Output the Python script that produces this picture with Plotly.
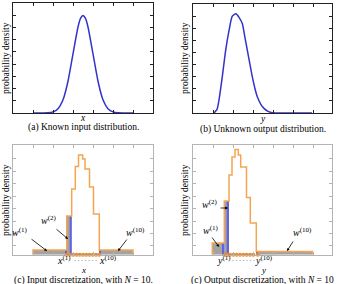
import plotly.graph_objects as go

W, H = 338, 284

# ---------------- data ----------------
# (a) known input distribution
a_x = [-5.0, -4.0, -3.5, -3.0, -2.5, -2.0, -1.5, -1.0, -0.5, -0.25, 0.0,
       0.25, 0.5, 1.0, 1.5, 2.0, 2.5, 3.0, 3.5, 4.0, 5.0]
a_y = [0.0, 0.0002, 0.001, 0.0045, 0.0175, 0.054, 0.13, 0.242, 0.352, 0.387, 0.399,
       0.387, 0.352, 0.242, 0.13, 0.054, 0.0175, 0.0045, 0.001, 0.0002, 0.0]

# (b) unknown output distribution
b_x = [2.1, 2.4, 2.6, 2.93, 3.27, 3.6, 3.93, 4.3, 4.6, 4.93, 5.2, 5.43, 5.7,
       5.93, 6.2, 6.43, 6.8, 7.1, 7.5, 7.93, 9.0, 11.9]
b_y = [0.0, 0.015, 0.054, 0.15, 0.26, 0.34, 0.40, 0.41, 0.395, 0.37, 0.31, 0.26, 0.2,
       0.15, 0.1, 0.067, 0.035, 0.019, 0.007, 0.001, 0.0, 0.0]

# (c) input discretization: bin edges and densities
c_edges = [-5.0, -1.63, -1.13, -0.77, -0.45, -0.03, 0.2, 0.65, 1.05, 1.63, 5.0]
c_heights = [0.019, 0.159, 0.270, 0.362, 0.409, 0.393, 0.352, 0.278, 0.167, 0.019]
c_gray_bins = [0, 1, 9]
c_blue_left = [-1.75, -1.33, 1.63]
c_blue_right = [-1.63, -1.13, 1.75]
c_blue_h = [0.019, 0.159, 0.019]
c_points = [-1.63, -1.30, -0.98, -0.65, -0.33, 0.0, 0.33, 0.65, 0.98, 1.30, 1.63]

# (d) output discretization
d_edges = [1.93, 3.13, 3.6, 3.9, 4.2, 4.53, 4.77, 5.35, 5.73, 6.33, 11.93]
d_heights = [0.048, 0.220, 0.327, 0.401, 0.432, 0.409, 0.360, 0.235, 0.130, 0.013]
d_gray_bins = [0, 1, 9]
d_blue_left = [2.98, 3.37, 6.33]
d_blue_right = [3.13, 3.6, 6.45]
d_blue_h = [0.048, 0.220, 0.013]
d_points = [3.2, 3.47, 3.7, 4.03, 4.37, 4.7, 5.03, 5.37, 5.7, 6.03, 6.47]

top_xticks_a = [-5, -3, -1, 1, 3, 5]
top_xticks_b = [2, 4, 6, 8, 10, 12]
top_yticks = [0.05, 0.10, 0.15, 0.20, 0.25, 0.30, 0.35, 0.40]
bot_yticks = [0.036, 0.087, 0.138, 0.189, 0.240, 0.291, 0.342, 0.393]

# ---------------- styles ----------------
BLUE = "#3333cc"
ORANGE = "#f5a552"
DOT = "#ef8a28"
GRAY = "#a3a3a3"
STRIP = "#6464e0"
FONT = "Liberation Serif"


def px(x):
    return x / W


def py(y):
    return 1 - y / H


fig = go.Figure()

# (a)
fig.add_trace(go.Scatter(x=a_x, y=a_y, mode="lines", line=dict(color=BLUE, width=1.5, shape="spline", smoothing=0.6),
                         xaxis="x", yaxis="y", hoverinfo="skip"))
# (b)
fig.add_trace(go.Scatter(x=b_x, y=b_y, mode="lines", line=dict(color=BLUE, width=1.5, shape="spline", smoothing=0.6),
                         xaxis="x2", yaxis="y2", hoverinfo="skip"))


def add_disc(edges, heights, gray_bins, bl, br, bh, pts, xa, ya):
    gx = [(edges[i] + edges[i + 1]) / 2 for i in gray_bins]
    gw = [edges[i + 1] - edges[i] for i in gray_bins]
    gh = [heights[i] for i in gray_bins]
    fig.add_trace(go.Bar(x=gx, y=gh, width=gw, marker=dict(color=GRAY, line=dict(width=0)),
                         xaxis=xa, yaxis=ya, hoverinfo="skip"))
    sx = [(l + r) / 2 for l, r in zip(bl, br)]
    sw = [r - l for l, r in zip(bl, br)]
    fig.add_trace(go.Bar(x=sx, y=bh, width=sw, marker=dict(color=STRIP, line=dict(width=0)),
                         xaxis=xa, yaxis=ya, hoverinfo="skip"))
    ox, oy = [edges[0]], [0]
    for i, h in enumerate(heights):
        ox += [edges[i], edges[i + 1]]
        oy += [h, h]
    ox.append(edges[-1])
    oy.append(0)
    fig.add_trace(go.Scatter(x=ox, y=oy, mode="lines", line=dict(color=ORANGE, width=1.5),
                             xaxis=xa, yaxis=ya, hoverinfo="skip"))
    fig.add_trace(go.Scatter(x=pts, y=[0] * len(pts), mode="markers",
                             marker=dict(color=DOT, size=4), cliponaxis=False,
                             xaxis=xa, yaxis=ya, hoverinfo="skip"))


add_disc(c_edges, c_heights, c_gray_bins, c_blue_left, c_blue_right, c_blue_h, c_points, "x3", "y3")
add_disc(d_edges, d_heights, d_gray_bins, d_blue_left, d_blue_right, d_blue_h, d_points, "x4", "y4")


def axis(dom, rng, ticks, anchor, col):
    return dict(domain=dom, range=rng, tickvals=ticks, showticklabels=False, ticks="inside",
                ticklen=3, tickwidth=1, tickcolor=col, mirror="ticks", showline=True,
                linecolor=col, linewidth=1, showgrid=False, zeroline=False, anchor=anchor,
                fixedrange=True)


XA = [px(13), px(153)]
XB = [px(193), px(332)]
YT = [py(113), py(3)]
YTb = [py(113), py(4)]
YB = [py(254.7), py(145)]
FR = "#222222"
GR = "#b4b4b4"

fig.update_layout(
    width=W, height=H, margin=dict(l=0, r=0, t=0, b=0),
    paper_bgcolor="white", plot_bgcolor="white", showlegend=False, barmode="overlay",
    xaxis=axis(XA, [-7, 7], top_xticks_a, "y", FR),
    yaxis=axis(YT, [0, 0.45], top_yticks, "x", FR),
    xaxis2=axis(XB, [0, 13.9], top_xticks_b, "y2", FR),
    yaxis2=axis(YTb, [0, 0.45], top_yticks, "x2", FR),
    xaxis3=axis(XA, [-7, 7], top_xticks_a, "y3", GR),
    yaxis3=axis(YB, [0, 0.45], bot_yticks, "x3", GR),
    xaxis4=axis(XB, [0, 13.9], top_xticks_b, "y4", GR),
    yaxis4=axis(YB, [0, 0.45], bot_yticks, "x4", GR),
)

ann = []


def text(x, y, s, size=9.5, angle=0):
    ann.append(dict(x=px(x), y=py(y), xref="paper", yref="paper", text=s, showarrow=False,
                    font=dict(family=FONT, size=size, color="black"), textangle=angle,
                    xanchor="center", yanchor="middle"))


def arrow(tx, ty, hx, hy):
    ann.append(dict(x=px(hx), y=py(hy), xref="paper", yref="paper", text="", showarrow=True,
                    ax=tx - hx, ay=ty - hy, axref="pixel", ayref="pixel",
                    arrowhead=2, arrowsize=0.7, arrowwidth=0.8, arrowcolor="black",
                    standoff=0, startstandoff=0))


for cx, cy in [(6, 58), (185, 58), (6, 200), (185, 200)]:
    text(cx, cy, "probability density", 9.5, -90)

text(83, 118, "<i>x</i>")
text(83, 127.5, "(a) Known input distribution.")
text(262.5, 119, "<i>y</i>")
text(262.5, 129.5, "(b) Unknown output distribution.")

# (c) annotations
text(20, 232, "<i>w</i><sup>(1)</sup>", 10)
text(49, 220, "<i>w</i><sup>(2)</sup>", 10)
text(135, 232, "<i>w</i><sup>(10)</sup>", 10)
arrow(30, 238, 47, 251)
arrow(55, 228, 68, 239)
arrow(128, 238, 118, 251)
text(64, 260, "<i>x</i><sup>(1)</sup>", 10)
text(108, 260, "<i>x</i><sup>(10)</sup>", 10)
text(85, 260.5, "· · · · · · ·", 6)
text(83, 269.5, "<i>x</i>", 9)
text(83, 280, "(c) Input discretization, with <i>N</i> = 10.")

# (d) annotations
text(211, 230, "<i>w</i><sup>(1)</sup>", 10)
text(210, 204, "<i>w</i><sup>(2)</sup>", 10)
text(302, 232, "<i>w</i><sup>(10)</sup>", 10)
arrow(211, 236, 219, 247)
arrow(219, 208, 228, 208)
arrow(294, 240, 287, 251)
text(224, 260, "<i>y</i><sup>(1)</sup>", 10)
text(264, 260, "<i>y</i><sup>(10)</sup>", 10)
text(243, 260.5, "· · · · · · ·", 6)
text(263, 269.5, "<i>y</i>", 9)
text(262, 280, "(c) Output discretization, with <i>N</i> = 10")

fig.update_layout(annotations=ann)

fig.write_html("out.html")
